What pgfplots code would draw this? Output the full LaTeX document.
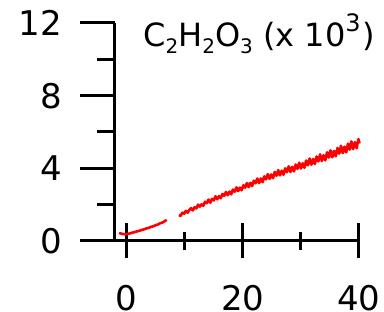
\documentclass[border=0pt]{standalone}
\usepackage{pgfplots}
\pgfplotsset{compat=1.18}
\usepackage{fontspec}
\setmainfont{DejaVu Sans}
\newcommand\mysub[1]{\raisebox{-7pt}{\fontsize{20}{20}\selectfont #1}}
\newcommand\mysup[1]{\raisebox{15pt}{\fontsize{24}{24}\selectfont #1}}
\begin{document}
\begin{tikzpicture}
\begin{axis}[
  at={(0,0)}, anchor=south west,
  scale only axis, width=244pt, height=218pt,
  xmin=-2, xmax=40, ymin=0, ymax=12,
  axis x line=bottom, axis y line=left,
  axis line style={-, line width=3pt, black},
  xtick={0,20,40}, minor xtick={10,30},
  ytick={0,4,8,12}, minor ytick={2,6,10},
  tick align=outside,
  major tick length=35pt, minor tick length=18pt,
  every tick/.style={line width=3pt, black},
  major x tick style={yshift=17.5pt},
  minor x tick style={yshift=9pt},
  /pgf/number format/assume math mode=true,
  ticklabel style={font=\fontsize{34}{40}\selectfont, inner sep=0pt},
  xticklabel style={anchor=north, yshift=-9pt},
  yticklabel style={anchor=east, xshift=-18pt},
  clip=false,
]
\addplot[red, line width=2.6pt, line join=round] coordinates {
(-1.3,0.44) (-1.0,0.41) (-0.6,0.38) (-0.2,0.37) (0.2,0.39) (0.6,0.42) (1.0,0.46) (1.4,0.49)
(1.8,0.53) (2.2,0.56) (2.6,0.61) (3.0,0.64) (3.4,0.69) (3.8,0.72) (4.2,0.78)
(4.6,0.81) (5.0,0.87) (5.4,0.91) (5.8,0.98) (6.2,1.02) (6.6,1.10) (6.9,1.16)
};
\addplot[red, line width=2.6pt, line join=round] coordinates {
(9.0,1.43) (9.3,1.38) (9.6,1.56) (9.9,1.50) (10.2,1.66) (10.5,1.56) (10.8,1.71)
(11.1,1.81) (11.4,1.68) (11.7,1.86) (12.0,1.79) (12.3,2.00) (12.6,1.89) (12.9,2.02)
(13.2,1.94) (13.5,2.16) (13.8,2.08) (14.1,2.28) (14.4,2.11) (14.7,2.32) (15.0,2.23)
(15.3,2.46) (15.6,2.30) (15.9,2.47) (16.2,2.35) (16.5,2.59) (16.8,2.49) (17.1,2.70)
(17.4,2.52) (17.7,2.72) (18.0,2.57) (18.3,2.83) (18.6,2.71) (18.9,2.95) (19.2,2.75)
(19.5,2.94) (19.8,2.79) (20.1,3.07) (20.4,2.93) (20.7,3.19) (21.0,2.97) (21.3,3.20)
(21.6,3.02) (21.9,3.32) (22.2,3.18) (22.5,3.44) (22.8,3.19) (23.1,3.44) (23.4,3.24)
(23.7,3.56) (24.0,3.39) (24.3,3.68) (24.6,3.42) (24.9,3.66) (25.2,3.46) (25.5,3.80)
(25.8,3.59) (26.1,3.90) (26.4,3.61) (26.7,3.87) (27.0,3.65) (27.3,4.00) (27.6,3.79)
(27.9,4.11) (28.2,3.80) (28.5,4.08) (28.8,3.83) (29.1,4.21) (29.4,3.97) (29.7,4.31)
(30.0,3.99) (30.3,4.28) (30.6,4.03) (30.9,4.43) (31.2,4.17) (31.5,4.54) (31.8,4.20)
(32.1,4.51) (32.4,4.24) (32.7,4.65) (33.0,4.38) (33.3,4.77) (33.6,4.40) (33.9,4.72)
(34.2,4.44) (34.5,4.88) (34.8,4.59) (35.1,4.99) (35.4,4.61) (35.7,4.96) (36.0,4.66)
(36.3,5.12) (36.6,4.81) (36.9,5.24) (37.2,4.84) (37.5,5.19) (37.8,4.88) (38.1,5.36)
(38.4,5.03) (38.7,5.48) (39.0,5.06) (39.3,5.44) (39.6,5.11) (39.9,5.61) (40.1,5.37)
};
\end{axis}
\node[anchor=base west, inner sep=0pt, font=\fontsize{32}{36}\selectfont] at (28pt,194pt)
  {C\mysub{2}H\mysub{2}O\mysub{3} (x 10\mysup{3}\kern2pt)};
\pgfresetboundingbox
\useasboundingbox (-115pt,-71pt) rectangle (269pt,241pt);
\end{tikzpicture}
\end{document}
